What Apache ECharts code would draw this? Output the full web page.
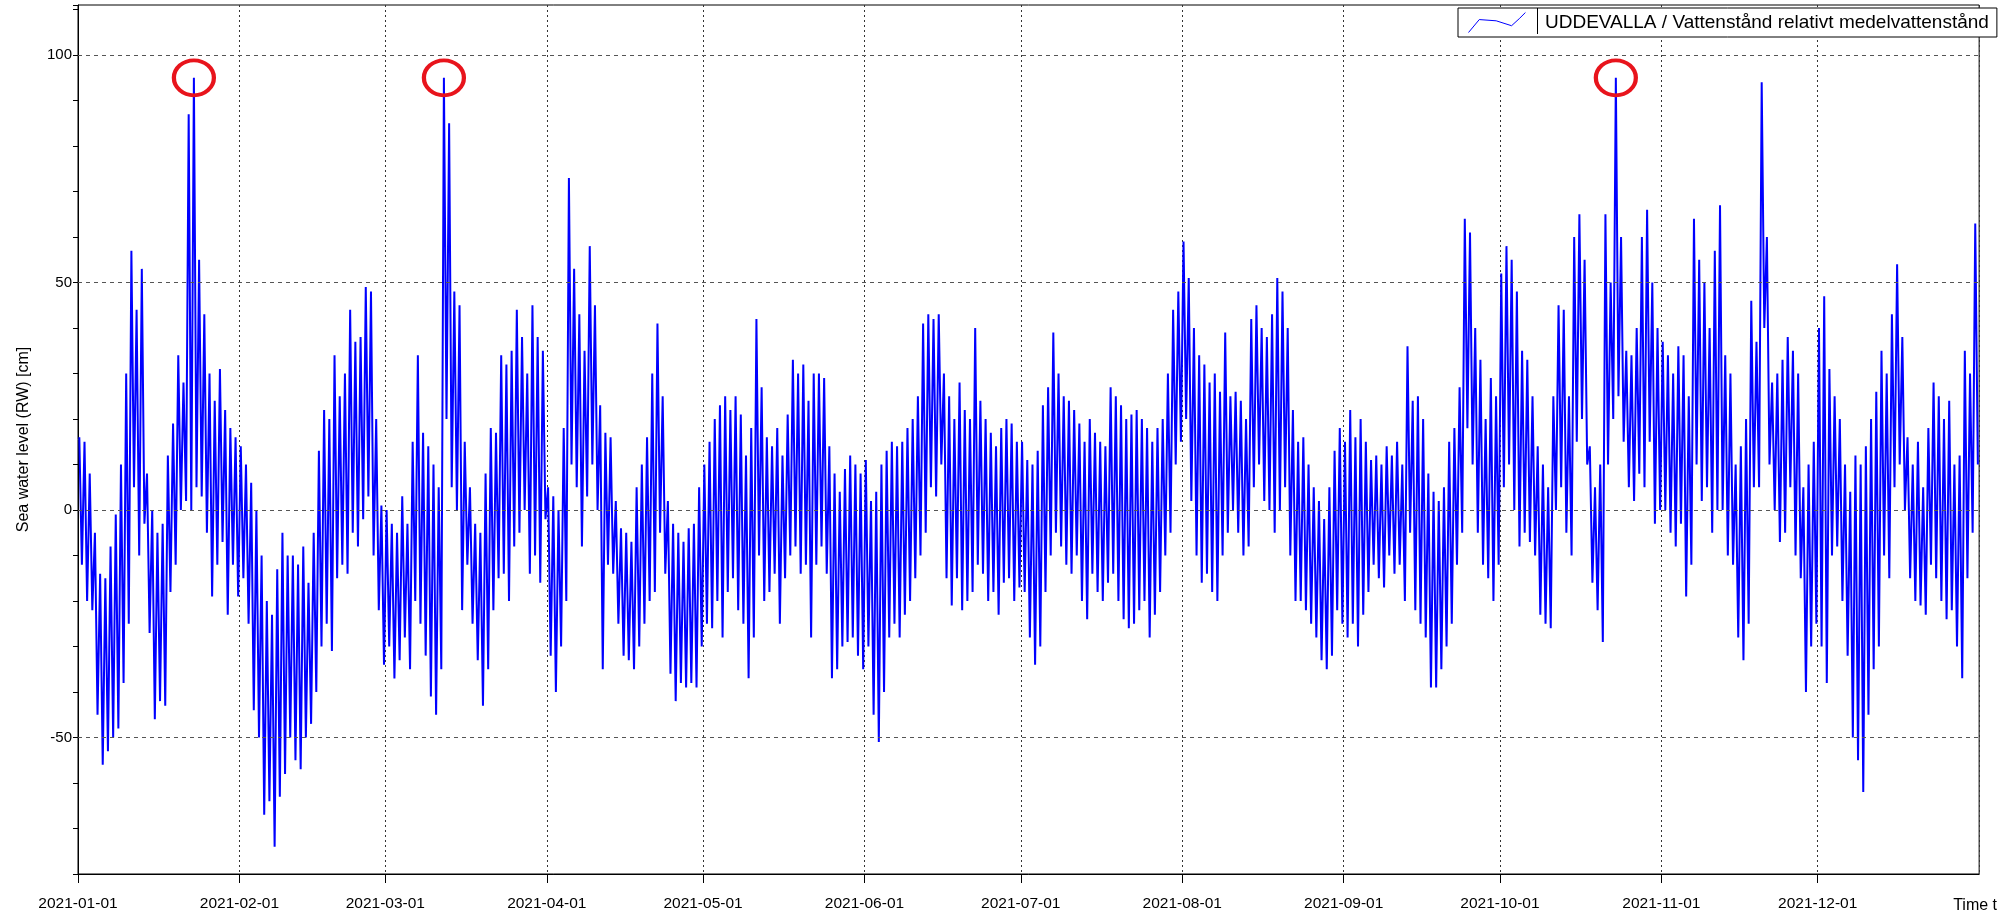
<!DOCTYPE html>
<html><head><meta charset="utf-8">
<script src="https://cdn.jsdelivr.net/npm/echarts@6/dist/echarts.min.js"></script>
<style>html,body{margin:0;padding:0;background:#fff}#c{width:2000px;height:923px}</style>
</head><body><div id="c"></div>
<script>
const seriesName = 'UDDEVALLA / Vattenstånd relativt medelvattenstånd';
const yAxisTitle = 'Sea water level (RW) [cm]';
const xAxisTitle = 'Time t';
const startDate = [2021, 0, 1];
const endDate = [2022, 0, 1];
const yLabelValues = [-50, 0, 50, 100];
const yGridValues = [-50, 0, 50, 100];
const circledPeakDays = [22, 70, 295];

// daily high / low water level (cm), day 0 = 2021-01-01
const dailyHigh = [
16,15,8,-5,-14,-15,-8,-1,10,30,
57,44,53,8,0,-5,-3,12,19,34,
28,87,95,55,43,30,24,31,22,18,
16,14,10,6,0,-10,-20,-23,-13,-5,
-10,-10,-12,-8,-16,-5,13,22,20,34,
25,30,44,37,38,49,48,20,1,0,
-3,-5,3,-3,15,34,17,14,10,5,
95,85,48,45,15,5,-3,-5,8,18,
17,34,32,35,44,38,30,45,38,35,
5,3,0,18,73,53,43,35,58,45,
23,17,16,2,-4,-5,-7,5,10,16,
30,41,25,2,-3,-5,-7,-4,-3,5,
10,15,20,23,25,22,25,21,12,18,
42,27,16,14,18,12,21,33,30,32,
24,30,30,29,14,8,4,9,12,10,
8,11,2,4,10,13,15,14,15,18,
20,25,41,43,42,43,30,25,20,28,
22,20,40,24,20,17,14,18,20,19,
15,15,11,10,13,23,27,39,30,25,
24,22,19,15,20,17,15,14,27,25,
23,20,21,22,20,18,15,18,20,30,
44,48,59,51,40,34,32,28,30,26,
39,25,26,24,20,42,45,40,38,43,
51,48,40,22,15,16,10,5,2,-2,
5,13,18,15,22,16,20,15,11,12,
10,14,12,15,10,36,24,25,20,8,
4,2,5,15,18,27,64,61,40,33,
20,29,25,52,58,55,48,35,33,25,
14,10,5,25,45,44,25,60,65,55,
14,5,10,65,50,95,60,35,34,40,
60,66,50,40,37,34,30,36,34,25,
64,55,50,40,57,67,34,30,10,14,
20,46,37,94,60,28,30,33,38,35,
30,5,10,15,40,47,31,25,20,10,
4,12,10,14,20,26,35,30,43,54,
38,16,10,15,5,18,28,25,20,24,
10,12,35,30,63
];
const dailyLow = [
-12,-20,-22,-45,-56,-53,-50,-48,-38,-25,
5,-10,-3,-27,-46,-42,-43,-18,-12,0,
2,0,5,3,-5,-19,-12,-7,-23,-12,
-19,-15,-25,-44,-50,-67,-64,-74,-63,-58,
-50,-55,-57,-50,-47,-40,-30,-25,-31,-15,
-12,-14,-5,-8,-2,3,-10,-22,-34,-30,
-37,-33,-28,-35,-20,-25,-32,-41,-45,-35,
20,5,0,-22,-12,-25,-33,-43,-35,-22,
-15,-14,-20,-8,-5,0,-14,-10,-16,-2,
-32,-40,-30,-20,10,5,-8,3,10,0,
-35,-12,-14,-25,-32,-33,-35,-30,-25,-20,
-18,-5,-14,-36,-42,-38,-39,-38,-39,-30,
-25,-26,-20,-28,-18,-15,-22,-25,-37,-28,
-10,-20,-18,-14,-25,-15,-10,-8,-14,-12,
-28,-12,-8,-14,-37,-35,-30,-29,-28,-32,
-35,-30,-45,-51,-40,-28,-25,-28,-23,-20,
-15,-10,-5,5,3,10,-15,-21,-15,-22,
-20,-18,-12,-14,-20,-18,-23,-16,-15,-20,
-17,-18,-28,-34,-30,-18,-10,-5,-8,-12,
-14,-10,-20,-24,-14,-18,-20,-16,-14,-20,
-24,-26,-25,-22,-20,-28,-23,-18,-10,-5,
10,15,20,2,-10,-16,-14,-18,-20,-10,
-5,0,-5,-10,-8,5,10,2,0,-5,
0,5,-10,-20,-20,-22,-25,-28,-33,-35,
-32,-22,-25,-28,-25,-30,-23,-18,-12,-15,
-17,-10,-14,-12,-20,-5,-22,-25,-28,-39,
-39,-35,-30,-25,-12,-5,18,10,-5,-12,
-15,-20,-12,5,10,0,-8,-5,-7,-10,
-23,-25,-26,0,5,-5,-10,15,20,10,
-16,-22,-29,10,20,25,15,5,2,8,
5,15,-3,0,0,-5,-8,-3,-19,-12,
10,2,5,-5,0,0,-10,-12,-28,-33,
-25,5,5,40,10,0,-7,-5,5,-10,
-15,-40,-30,-25,-30,-38,-10,-8,-20,-32,
-50,-55,-62,-45,-35,-30,-10,-15,5,10,
0,-15,-20,-21,-23,-12,-15,-20,-24,-22,
-30,-37,-15,-5,10
];

const DAY = 86400000, HOUR = 3600000;
const t0 = new Date(startDate[0], startDate[1], startDate[2]).getTime();
const t1 = new Date(endDate[0], endDate[1], endDate[2]).getTime();
const highTime = d => t0 + d * DAY + 6 * HOUR;
const lowTime = d => t0 + d * DAY + 18 * HOUR;
const data = [];
for (let d = 0; d < dailyHigh.length; d++) {
  data.push([highTime(d), dailyHigh[d]]);
  data.push([lowTime(d), dailyLow[d]]);
}

const NARROW = '"Liberation Sans Narrow","Arial Narrow","Liberation Sans",Arial,sans-serif';
const SANS = '"Liberation Sans",Arial,sans-serif';

const chart = echarts.init(document.getElementById('c'), null, {renderer: 'canvas'});
chart.setOption({
  animation: false,
  backgroundColor: '#fff',
  grid: {left: 78, right: 9, top: 5, bottom: 49, show: true, borderColor: '#000', borderWidth: 1, backgroundColor: 'transparent'},
  legend: {
    data: [seriesName],
    left: 1458, top: 8,
    selectedMode: false,
    icon: 'path://M0,65 L35,23 L90,27 L140,43 L165,20 L185,0',
    itemWidth: 62, itemHeight: 20,
    padding: [2, 8, 2, 8],
    borderColor: '#000', borderWidth: 1, borderRadius: 0,
    backgroundColor: '#fff',
    itemStyle: {color: 'none', borderColor: '#0000ff', borderWidth: 1},
    textStyle: {fontFamily: NARROW, fontSize: 19, color: '#000', padding: [0, 0, 0, 12]}
  },
  graphic: [{
    type: 'line', z: 100,
    shape: {x1: 1537.5, y1: 8, x2: 1537.5, y2: 34},
    style: {stroke: '#000', lineWidth: 1}
  }],
  xAxis: {
    type: 'time', min: t0, max: t1, splitNumber: 12,
    name: xAxisTitle, nameLocation: 'end', nameGap: -26,
    nameTextStyle: {fontFamily: NARROW, fontSize: 16, color: '#000', align: 'left', verticalAlign: 'top', padding: [24, 0, 0, 0]},
    axisLine: {onZero: false, lineStyle: {color: '#000', width: 1}},
    axisTick: {show: true, length: 9, lineStyle: {color: '#000'}},
    splitLine: {show: true, lineStyle: {color: '#333', type: [2, 3], width: 1}},
    axisLabel: {formatter: '{yyyy}-{MM}-{dd}', showMaxLabel: false, fontFamily: NARROW, fontSize: 15.5, color: '#000', margin: 22}
  },
  yAxis: {
    type: 'value', min: -80, max: 111, interval: 10,
    name: yAxisTitle, nameLocation: 'middle', nameGap: 46,
    nameTextStyle: {fontFamily: NARROW, fontSize: 16, color: '#000'},
    axisLine: {show: true, lineStyle: {color: '#000', width: 1}},
    axisTick: {show: true, length: 5, lineStyle: {color: '#000'}},
    splitLine: {show: false},
    axisLabel: {formatter: v => yLabelValues.includes(v) ? String(v) : '', fontFamily: SANS, fontSize: 15, color: '#000', margin: 6}
  },
  series: [
    {
      name: '_grid', type: 'line', data: [], silent: true, z: 1,
      markLine: {
        silent: true, symbol: 'none', label: {show: false}, animation: false,
        lineStyle: {type: [4, 4], color: '#555', width: 1},
        data: yGridValues.map(v => ({yAxis: v}))
      }
    },
    {
      name: seriesName, type: 'line', data: data, z: 2,
      showSymbol: false, symbol: 'none', sampling: null,
      lineStyle: {color: '#0000ff', width: 2},
      itemStyle: {color: '#0000ff'},
      markPoint: {
        silent: true, symbol: 'circle', symbolSize: [40, 35],
        itemStyle: {color: 'rgba(0,0,0,0)', borderColor: '#e8141c', borderWidth: 4},
        label: {show: false},
        data: circledPeakDays.map(d => ({coord: [highTime(d), dailyHigh[d]]}))
      }
    }
  ]
});
</script></body></html>
